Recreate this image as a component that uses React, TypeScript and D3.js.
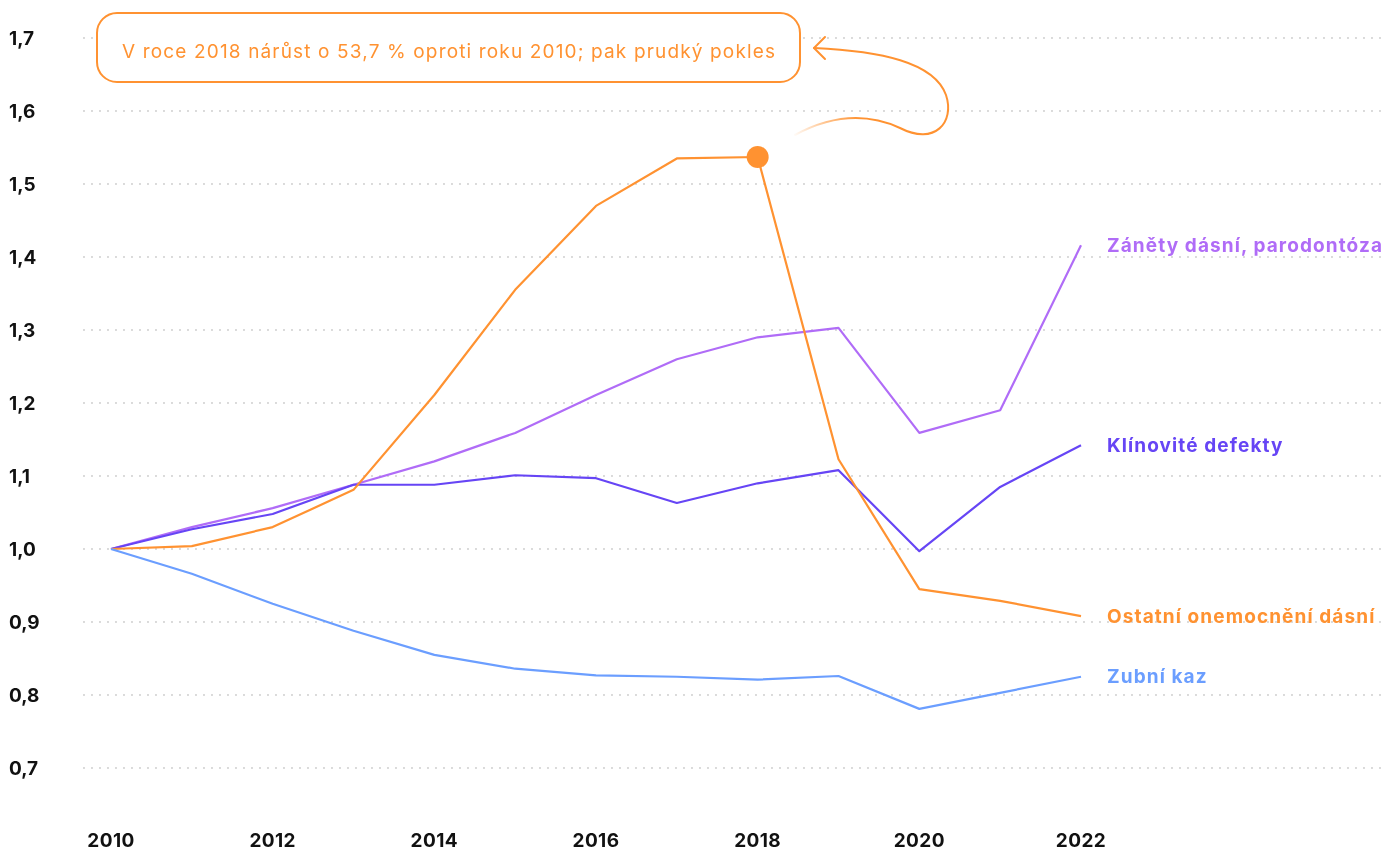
import * as d3 from "d3";

// Index 2010 = 1, dental diagnoses
const years = d3.range(2010, 2023);
const ostatni = [1.0, 1.004, 1.03, 1.081, 1.211, 1.355, 1.47, 1.535, 1.537, 1.123, 0.945, 0.929, 0.908];
const zanety = [1.0, 1.03, 1.056, 1.088, 1.12, 1.159, 1.211, 1.26, 1.29, 1.303, 1.159, 1.19, 1.416];
const klinovite = [1.0, 1.027, 1.048, 1.088, 1.088, 1.101, 1.097, 1.063, 1.09, 1.108, 0.997, 1.085, 1.142];
const kaz = [1.0, 0.966, 0.925, 0.888, 0.855, 0.836, 0.827, 0.825, 0.821, 0.826, 0.781, 0.803, 0.825];
const yTicks = [0.7, 0.8, 0.9, 1.0, 1.1, 1.2, 1.3, 1.4, 1.5, 1.6, 1.7];
const xTicks = [2010, 2012, 2014, 2016, 2018, 2020, 2022];

const series = [
  { name: "Záněty dásní, parodontóza", values: zanety, color: "#b06cf7" },
  { name: "Klínovité defekty", values: klinovite, color: "#6645f5" },
  { name: "Ostatní onemocnění dásní", values: ostatni, color: "#ff9231" },
  { name: "Zubní kaz", values: kaz, color: "#6b9eff" },
];

const NOTE = "V roce 2018 nárůst o 53,7 % oproti roku 2010; pak prudký pokles";
const ORANGE = "#ff9231";
const W = 1384, H = 851;
const FONT = "Inter, 'DejaVu Sans', sans-serif";

export default function App() {
  const x = d3.scaleLinear().domain([2010, 2022]).range([111, 1081]);
  const y = d3.scaleLinear().domain([0.7, 1.7]).range([768, 38]);
  const line = d3.line<number>().x((_, i) => x(years[i])).y((v) => y(v));
  const peakX = x(2018), peakY = y(ostatni[8]);

  return (
    <svg width={W} height={H} style={{ position: "fixed", left: 0, top: 0, display: "block" }} fontFamily={FONT}>
      <defs>
        <linearGradient id="fade" gradientUnits="userSpaceOnUse" x1={795} y1={140} x2={845} y2={100}>
          <stop offset="0" stopColor={ORANGE} stopOpacity={0} />
          <stop offset="1" stopColor={ORANGE} stopOpacity={1} />
        </linearGradient>
      </defs>
      {yTicks.map((t) => (
        <g key={t}>
          <line x1={84} x2={W} y1={y(t)} y2={y(t)} stroke="#cfcfcf" strokeWidth={2}
                strokeDasharray="0 8" strokeLinecap="round" />
          <text x={9} y={y(t)} dy="0.35em" fontSize={19} fontWeight={700} fill="#111">
            {t.toFixed(1).replace(".", ",")}
          </text>
        </g>
      ))}
      {xTicks.map((t) => (
        <text key={t} x={x(t)} y={840} dy="0.35em" textAnchor="middle" fontSize={19} fontWeight={700}
              letterSpacing={0.4} fill="#111">
          {t}
        </text>
      ))}
      {series.map((s) => (
        <g key={s.name}>
          <path d={line(s.values) ?? ""} fill="none" stroke={s.color} strokeWidth={2.2} strokeLinejoin="round" />
          <text x={1107} y={y(s.values[12])} dy="0.35em" fontSize={19} fontWeight={700}
                letterSpacing={1.1} fill={s.color}>
            {s.name}
          </text>
        </g>
      ))}
      <circle cx={peakX} cy={peakY} r={11} fill={ORANGE} />
      <rect x={97} y={13} width={703} height={69} rx={20} fill="white" stroke={ORANGE} strokeWidth={2} />
      <text x={122} y={52} dy="0.3em" fontSize={19} letterSpacing={1.15} fill={ORANGE}>{NOTE}</text>
      <path d="M 795 135 C 830 116, 865 112, 900 128 C 935 146, 955 122, 946 95 C 934 62, 880 51, 814 48"
            fill="none" stroke="url(#fade)" strokeWidth={2} strokeLinecap="round" />
      <path d="M 825 37 L 814 48 L 825 59" fill="none" stroke={ORANGE} strokeWidth={2} strokeLinecap="round" strokeLinejoin="round" />
    </svg>
  );
}
